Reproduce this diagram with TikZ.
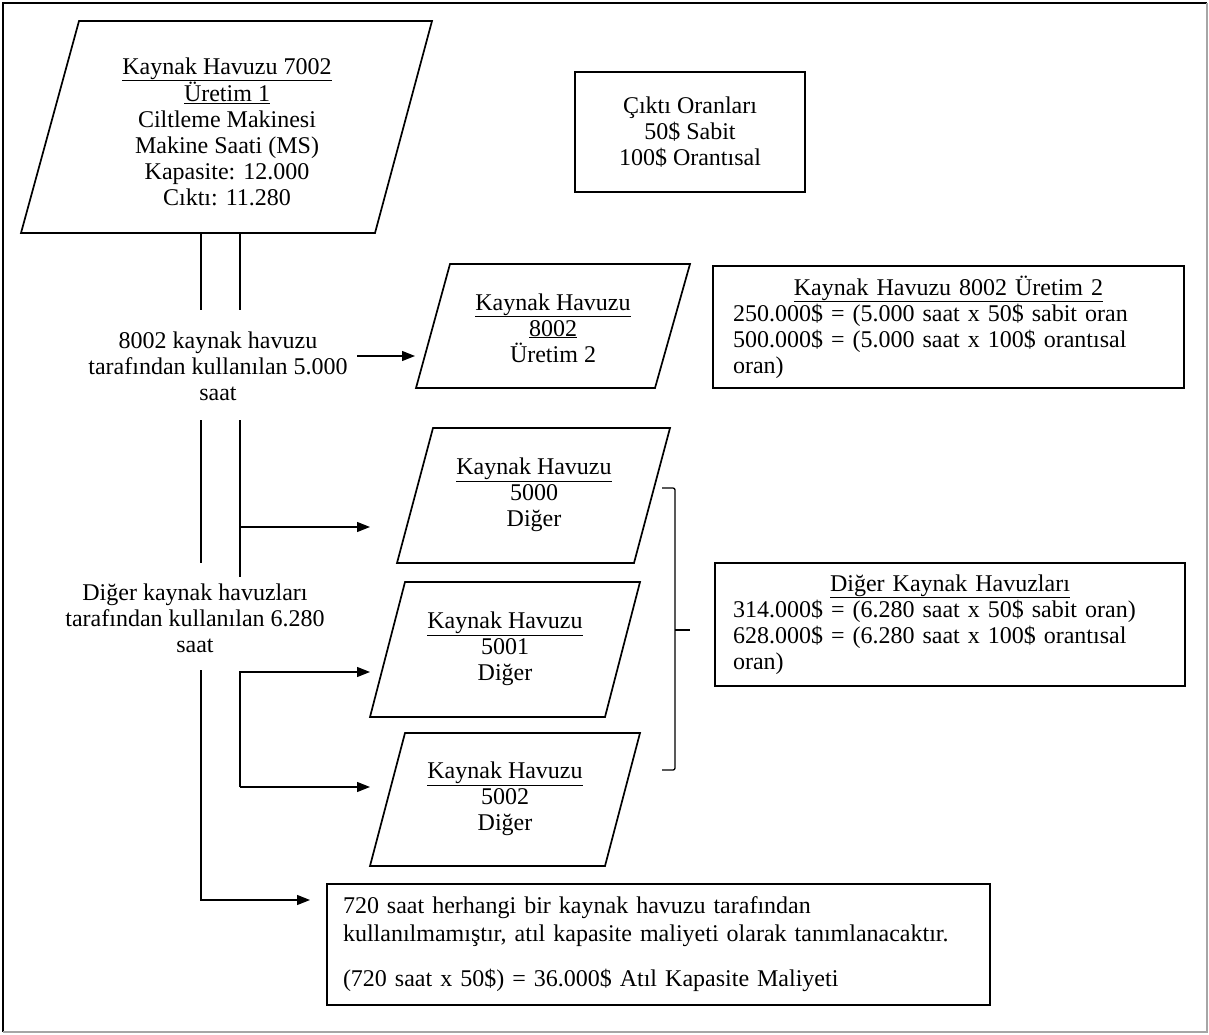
\documentclass[tikz,border=0pt]{standalone}
\usepackage{fontspec}
\setmainfont{Liberation Serif}
\usetikzlibrary{arrows.meta,positioning}
\newcommand{\altcizgi}[1]{\leavevmode\vtop{\hbox{#1}\kern0.6pt\hrule height 1.3pt}}
\tikzset{
    yazi/.style={align=center,inner sep=0pt,font=\fontsize{24}{26}\selectfont},
    kutu/.style={draw,line width=1.4pt,font=\fontsize{24}{26}\selectfont},
    havuz/.style={line width=1.7pt,line join=miter},
    hat/.style={line width=1.3pt},
    ok/.style={hat,-{Triangle[length=13pt,width=10pt]}}
}
\begin{document}
\begin{tikzpicture}[x=1pt,y=-1pt]
    \useasboundingbox (0,0) rectangle (1209,1034);
    % cerceve
    \draw[line width=1.5pt] (3,1032) -- (3,3) -- (1207,3);
    \draw[line width=1.5pt,black!35] (1207,3) -- (1207,1032) -- (3,1032);

    % kaynak havuzu 7002
    \draw[havuz] (79,21) -- (432,21) -- (375,233) -- (21,233) -- cycle;
    \node[yazi] (h7002) at (227,132) {\altcizgi{Kaynak Havuzu 7002}\\\altcizgi{Üretim 1}\\Ciltleme Makinesi\\Makine Saati (MS)\\Kapasite: 12.000\\Cıktı: 11.280};

    \node[kutu,align=center,minimum width=230,minimum height=120] (cikti) at (690,132)
        {Çıktı Oranları\\50\$ Sabit\\100\$ Orantısal};

    % 8002
    \node[yazi] (t8002) at (218,366) {8002 kaynak havuzu\\tarafından kullanılan 5.000\\saat};
    \draw[havuz] (450,264) -- (690,264) -- (655,388) -- (416,388) -- cycle;
    \node[yazi] (h8002) at (553,328) {\altcizgi{Kaynak Havuzu}\\\altcizgi{8002}\\Üretim 2};
    \node[kutu,text width=431,align=left,inner xsep=20,minimum height=122] (b8002) at (948.5,327)
        {\makebox[\linewidth]{\altcizgi{Kaynak Havuzu 8002 Üretim 2}}\\
         250.000\$ = (5.000 saat x 50\$ sabit oran\\
         500.000\$ = (5.000 saat x 100\$ orantısal\\
         oran)};

    % diger havuzlar
    \node[yazi] (tdiger) at (195,618) {Diğer kaynak havuzları\\tarafından kullanılan 6.280\\saat};
    \draw[havuz] (433,428) -- (670,428) -- (634,563) -- (397,563) -- cycle;
    \node[yazi] (h5000) at (534,495) {\altcizgi{Kaynak Havuzu}\\5000\\Diğer};
    \draw[havuz] (405,582) -- (640,582) -- (605,717) -- (370,717) -- cycle;
    \node[yazi] (h5001) at (505,649) {\altcizgi{Kaynak Havuzu}\\5001\\Diğer};
    \draw[havuz] (405,733) -- (640,733) -- (605,866) -- (370,866) -- cycle;
    \node[yazi] (h5002) at (505,799) {\altcizgi{Kaynak Havuzu}\\5002\\Diğer};
    \node[kutu,text width=434,align=left,inner xsep=18,minimum height=123] (bdiger) at (950,624.5)
        {\makebox[\linewidth]{\altcizgi{Diğer Kaynak Havuzları}}\\
         314.000\$ = (6.280 saat x 50\$ sabit oran)\\
         628.000\$ = (6.280 saat x 100\$ orantısal\\
         oran)};

    % ayrac
    \draw[hat,rounded corners=2pt] (662,488) -- (675,488) -- (675,770) -- (662,770);
    \draw[hat] (675,630) -- (690,630);

    % atil kapasite
    \node[kutu,font=\fontsize{24}{28}\selectfont,text width=631,align=left,inner xsep=16,minimum height=121] (batil) at (658.5,944.5)
        {720 saat herhangi bir kaynak havuzu tarafından\\
         kullanılmamıştır, atıl kapasite maliyeti olarak tanımlanacaktır.\\[17pt]
         (720 saat x 50\$) = 36.000\$ Atıl Kapasite Maliyeti};

    % baglantilar
    \coordinate (g8002) at (415,356);
    \coordinate (g5000) at (370,527);
    \coordinate (g5001) at (370,672);
    \coordinate (g5002) at (370,787);
    \coordinate (gatil) at (310,900);

    \draw[hat] (201,233) -- (201,310) (240,233) -- (240,310);
    \draw[hat] (201,420) -- (201,563) (240,420) -- (240,577);
    \draw[ok] (357,356) -- (g8002);
    \draw[ok] (240,527) -- (g5000);
    \draw[ok] (240,787) -- (240,672) -- (g5001);
    \draw[ok] (240,787) -- (g5002);
    \draw[ok] (201,670) -- (201,900) -- (gatil);
\end{tikzpicture}
\end{document}
